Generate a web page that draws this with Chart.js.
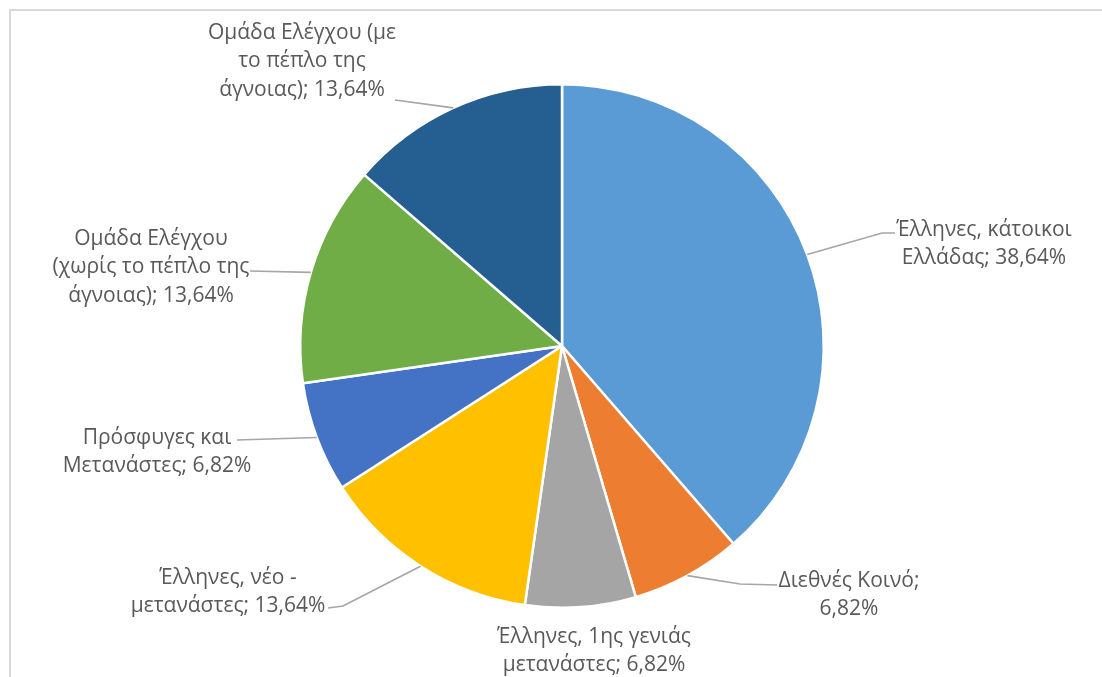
<!DOCTYPE html>
<html>
<head>
<meta charset="utf-8">
<script src="https://cdn.jsdelivr.net/npm/chart.js@4/dist/chart.umd.min.js"></script>
<style>
  html, body { margin: 0; padding: 0; background: #fff; }
  #wrap { position: relative; width: 1102px; height: 677px; }
  #frame { position: absolute; left: 9px; top: 9px; width: 1200px; height: 800px; border: 2px solid #d9d9d9; box-sizing: border-box; }
</style>
</head>
<body>
<div id="wrap">
  <div id="frame"></div>
  <canvas id="pieChart" width="1102" height="677"></canvas>
</div>
<script>
// slices, clockwise from 12 o'clock
var labels = [
  'Έλληνες, κάτοικοι Ελλάδας',
  'Διεθνές Κοινό',
  'Έλληνες, 1ης γενιάς μετανάστες',
  'Έλληνες, νέο - μετανάστες',
  'Πρόσφυγες και Μετανάστες',
  'Ομάδα Ελέγχου (χωρίς το πέπλο της άγνοιας)',
  'Ομάδα Ελέγχου (με το πέπλο της άγνοιας)'
];
var values = [38.64, 6.82, 6.82, 13.64, 6.82, 13.64, 13.64];
var colors = ['#5b9bd5', '#ed7d31', '#a5a5a5', '#ffc000', '#4472c4', '#70ad47', '#255e91'];

// how the data labels wrap, as Excel shows them
var labelLines = [
  ['Έλληνες, κάτοικοι', 'Ελλάδας; 38,64%'],
  ['Διεθνές Κοινό;', '6,82%'],
  ['Έλληνες, 1ης γενιάς', 'μετανάστες; 6,82%'],
  ['Έλληνες, νέο -', 'μετανάστες; 13,64%'],
  ['Πρόσφυγες και', 'Μετανάστες; 6,82%'],
  ['Ομάδα Ελέγχου', '(χωρίς το πέπλο της', 'άγνοιας); 13,64%'],
  ['Ομάδα Ελέγχου (με', 'το πέπλο της', 'άγνοιας); 13,64%']
];

// label box placement (center x, first line y) and leader line path near the text
var labelPos = [
  { x: 984, y: 230, lead: [[895, 233], [882, 233]] },
  { x: 849, y: 581, lead: [[777, 585], [740, 584]] },
  { x: 594, y: 637, lead: null },
  { x: 228, y: 578, lead: [[328, 608], [343, 606]] },
  { x: 157, y: 438, lead: [[237, 440]] },
  { x: 151, y: 239, lead: [[250, 271]] },
  { x: 302, y: 33, lead: [[395, 100]] }
];

var excelLabels = {
  id: 'excelLabels',
  afterDatasetsDraw: function(chart) {
    var ctx = chart.ctx;
    var meta = chart.getDatasetMeta(0);
    ctx.save();
    meta.data.forEach(function(arc, i) {
      var p = labelPos[i];
      var mid = (arc.startAngle + arc.endAngle) / 2;
      var ex = arc.x + Math.cos(mid) * arc.outerRadius;
      var ey = arc.y + Math.sin(mid) * arc.outerRadius;
      if (p.lead) {
        ctx.strokeStyle = '#a6a6a6';
        ctx.lineWidth = 1.7;
        ctx.beginPath();
        ctx.moveTo(p.lead[0][0], p.lead[0][1]);
        for (var k = 1; k < p.lead.length; k++) ctx.lineTo(p.lead[k][0], p.lead[k][1]);
        ctx.lineTo(ex, ey);
        ctx.stroke();
      }
      ctx.fillStyle = '#595959';
      ctx.font = '21px "Open Sans"';
      ctx.textAlign = 'center';
      ctx.textBaseline = 'middle';
      labelLines[i].forEach(function(t, j) {
        ctx.fillText(t, p.x, p.y + j * 28.5);
      });
    });
    ctx.restore();
  }
};

var ctx = document.getElementById('pieChart').getContext('2d');
var chart = new Chart(ctx, {
  type: 'pie',
  data: {
    labels: labels,
    datasets: [{
      data: values,
      backgroundColor: colors,
      borderColor: '#ffffff',
      borderWidth: 2.5
    }]
  },
  options: {
    responsive: false,
    animation: false,
    layout: { padding: { top: 83, bottom: 68, left: 299, right: 277 } },
    plugins: {
      legend: { display: false },
      tooltip: { enabled: false }
    }
  },
  plugins: [excelLabels]
});
</script>
</body>
</html>
